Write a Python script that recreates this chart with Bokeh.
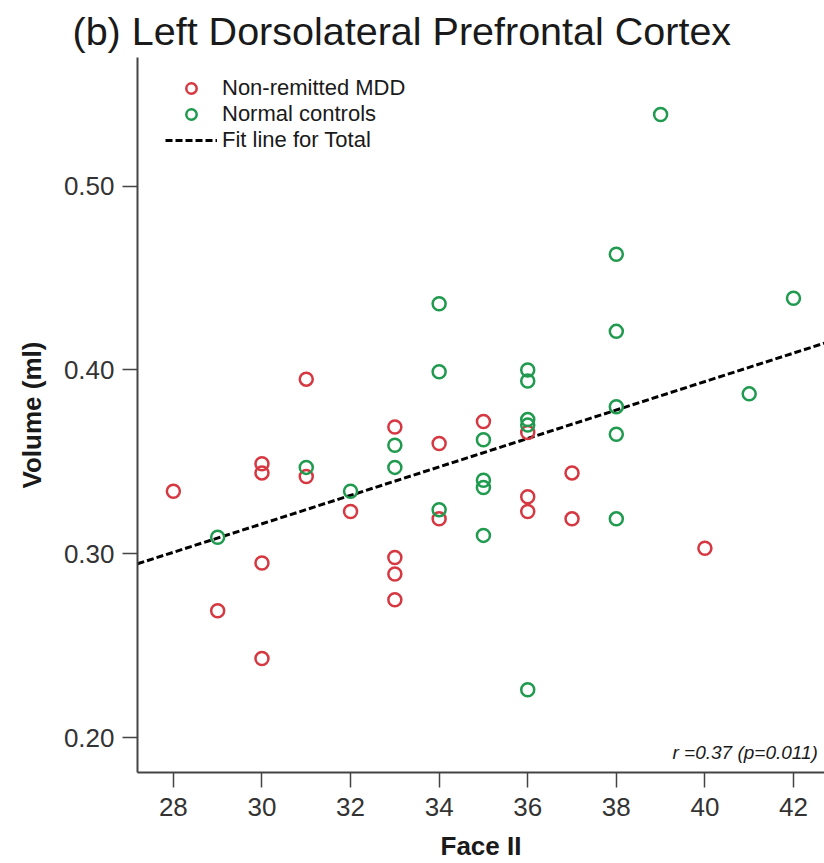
from bokeh.plotting import figure
from bokeh.models import (Range1d, FixedTicker, NumeralTickFormatter, Legend, LegendItem,
                          Label)
from bokeh.embed import file_html
from bokeh.resources import INLINE

# ---- data ----
mdd_face = [28, 29, 30, 30, 30, 30, 31, 31, 32, 33, 33, 33, 33, 34, 34, 35,
            36, 36, 36, 37, 37, 40]
mdd_vol = [0.334, 0.269, 0.349, 0.344, 0.295, 0.243, 0.395, 0.342, 0.323, 0.369,
           0.298, 0.289, 0.275, 0.360, 0.319, 0.372, 0.366, 0.331, 0.323, 0.344,
           0.319, 0.303]

nc_face = [29, 31, 32, 33, 33, 34, 34, 34, 35, 35, 35, 35, 36, 36, 36, 36, 36,
           38, 38, 38, 38, 38, 39, 41, 42]
nc_vol = [0.309, 0.347, 0.334, 0.359, 0.347, 0.436, 0.399, 0.324, 0.362, 0.340,
          0.336, 0.310, 0.400, 0.394, 0.373, 0.370, 0.226, 0.463, 0.421, 0.380,
          0.365, 0.319, 0.539, 0.387, 0.439]

fit_slope = 0.00774
fit_intercept = 0.0841

x_ticks = [28, 30, 32, 34, 36, 38, 40, 42]
y_ticks = [0.20, 0.30, 0.40, 0.50]

title_text = "(b) Left Dorsolateral Prefrontal Cortex"
stat_text = "r =0.37 (p=0.011)"
legend_labels = ["Non-remitted MDD", "Normal controls", "Fit line for Total"]

RED = "#d63842"
GREEN = "#1f9a4e"
FONT = "Liberation Sans"

x_lo, x_hi = 27.19, 42.7
y_lo, y_hi = 0.181, 0.570

p = figure(width=824, height=863, output_backend="svg", toolbar_location=None,
           x_range=Range1d(x_lo, x_hi), y_range=Range1d(y_lo, y_hi),
           min_border_left=137, min_border_right=0, min_border_top=57,
           min_border_bottom=91)

p.title.text = title_text
p.title.text_font = FONT
p.title.text_font_size = "39.5px"
p.title.text_font_style = "normal"
p.title.text_color = "#1a1a1a"
p.title.align = "left"
p.title.offset = -65
p.title.standoff = 9

p.grid.visible = False
p.outline_line_color = None
p.background_fill_color = "white"
p.border_fill_color = "white"

for ax in (p.xaxis[0], p.yaxis[0]):
    ax.axis_line_color = "#444444"
    ax.axis_line_width = 2
    ax.major_tick_line_color = "#444444"
    ax.major_tick_line_width = 1.5
    ax.major_tick_in = 0
    ax.major_tick_out = 15
    ax.minor_tick_line_color = None
    ax.major_label_text_font = FONT
    ax.major_label_text_font_size = "26px"
    ax.major_label_text_color = "#333333"
    ax.axis_label_text_font = FONT
    ax.axis_label_text_font_size = "26px"
    ax.axis_label_text_font_style = "bold"
    ax.axis_label_text_color = "#1a1a1a"

p.xaxis.ticker = FixedTicker(ticks=x_ticks)
p.yaxis.ticker = FixedTicker(ticks=y_ticks)
p.yaxis.formatter = NumeralTickFormatter(format="0.00")
p.xaxis.axis_label = "Face II"
p.yaxis.axis_label = "Volume (ml)"
p.xaxis.major_label_standoff = 10
p.yaxis.major_label_standoff = 8
p.xaxis.axis_label_standoff = 12
p.yaxis.axis_label_standoff = 14

# fit line
fx = [x_lo, x_hi]
fy = [fit_intercept + fit_slope * v for v in fx]
fit_r = p.line(fx, fy, line_color="black", line_width=3, line_dash="7 3")

red_r = p.scatter(mdd_face, mdd_vol, marker="circle", size=13, fill_alpha=0,
                  line_color=RED, line_width=2.5)
green_r = p.scatter(nc_face, nc_vol, marker="circle", size=13, fill_alpha=0,
                    line_color=GREEN, line_width=2.5)

legend = Legend(items=[
    LegendItem(label=legend_labels[0], renderers=[red_r]),
    LegendItem(label=legend_labels[1], renderers=[green_r]),
    LegendItem(label=legend_labels[2], renderers=[fit_r]),
], location=(28, 619))
legend.border_line_color = None
legend.background_fill_alpha = 0
legend.label_text_font = FONT
legend.label_text_font_size = "22px"
legend.label_text_color = "#1a1a1a"
legend.glyph_width = 52
legend.glyph_height = 26
legend.label_height = 26
legend.spacing = 0
legend.padding = 0
legend.margin = 0
legend.label_standoff = 5
p.add_layout(legend)

lab = Label(x=42.55, y=0.1918, text=stat_text, text_font=FONT,
            text_font_size="19px", text_font_style="italic", text_color="#1a1a1a",
            text_align="right", text_baseline="alphabetic")
p.add_layout(lab)

open("out.html", "w").write(file_html(p, INLINE))
